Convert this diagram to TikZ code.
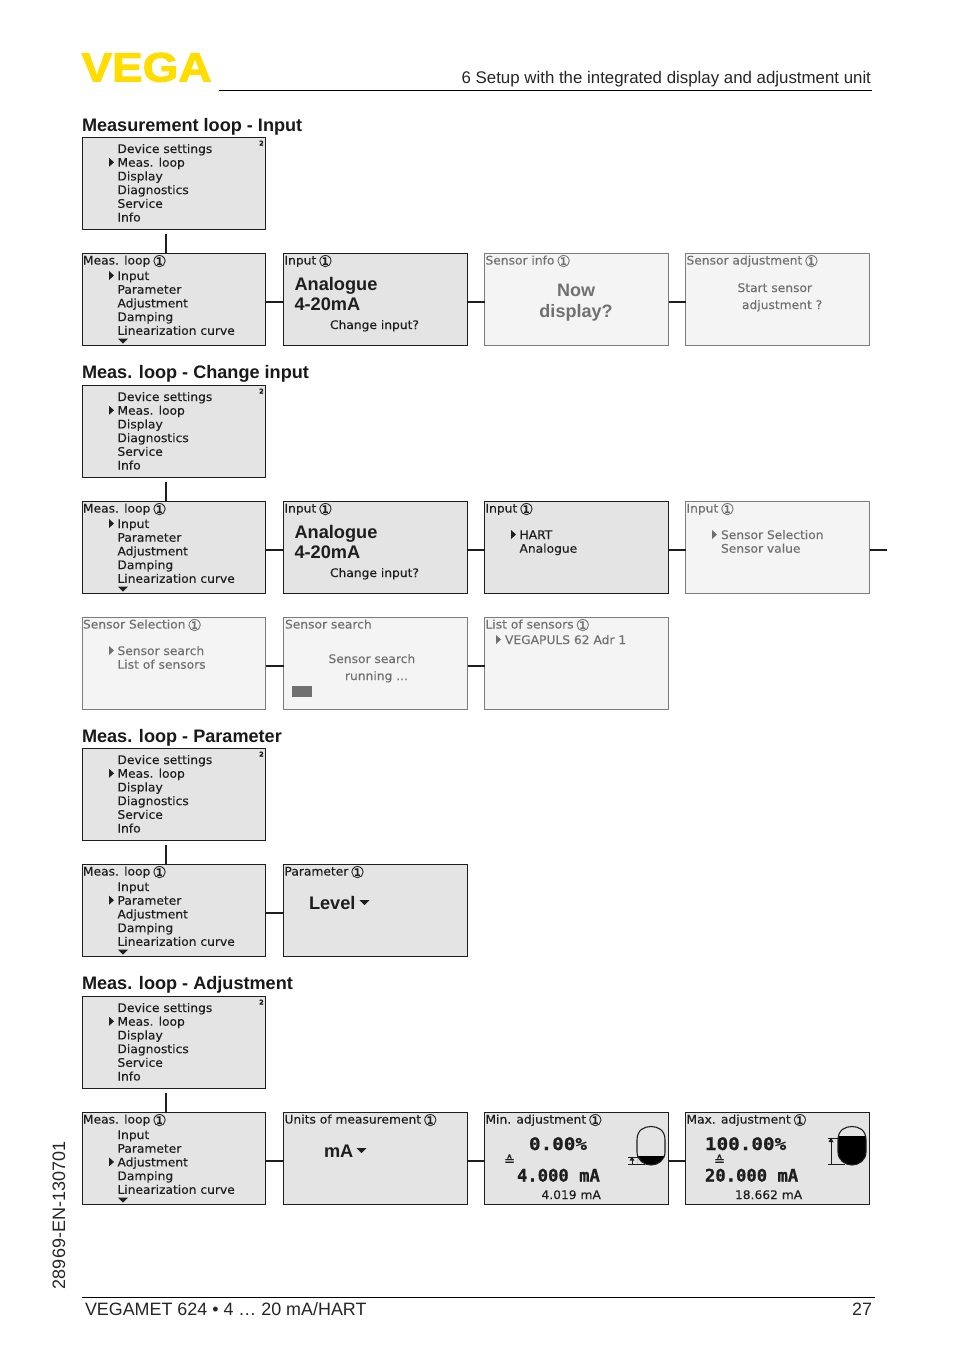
\documentclass[tikz,border=0pt]{standalone}
\usepackage{fontspec}
\setmainfont{Liberation Sans}
\newfontfamily\lcdf[FakeStretch=1.04,FakeBold=0.25]{DejaVu Sans}
\newfontfamily\lcdc[FakeBold=0.4]{DejaVu Sans}
\newfontfamily\lcdm[FakeBold=0.8]{DejaVu Sans Mono}
\newfontfamily\lcdw[FakeBold=0.8,FakeStretch=1.12]{DejaVu Sans Mono}
\newfontfamily\logof[FakeBold=2.4,FakeStretch=1.12]{Liberation Sans}
\definecolor{lcdbg}{HTML}{E4E4E4}
\definecolor{lcdfade}{HTML}{F4F4F4}
\definecolor{fadeline}{HTML}{7C7C7C}
\definecolor{fadetext}{HTML}{707070}
\definecolor{lcdink}{HTML}{1E1E1E}
\definecolor{vegayellow}{HTML}{FFDD00}
\newcounter{tctr}
\tikzset{
  lcdon/.style={draw=lcdink,line width=1.3pt,fill=lcdbg,rectangle,inner sep=0pt,outer sep=0pt,anchor=north west,minimum height=92pt},
  lcdoff/.style={draw=fadeline,line width=0.9pt,fill=lcdfade,rectangle,inner sep=0pt,outer sep=0pt,anchor=north west,minimum height=92pt},
  txt/.style={inner sep=0pt,outer sep=0pt,anchor=base west},
  small/.style={txt,font=\lcdf\fontsize{11.8}{13}\selectfont},
  big/.style={txt,font=\fontsize{18.2}{22}\selectfont\bfseries},
  num/.style={txt,font=\lcdm\fontsize{17.2}{20}\selectfont\bfseries},
  numw/.style={txt,font=\lcdw\fontsize{17.2}{20}\selectfont\bfseries},
  head/.style={txt,font=\fontsize{18.1}{22}\selectfont\bfseries,text=black!90},
  page/.style={txt,font=\fontsize{17.9}{21}\selectfont,text=black!85},
  link/.style={draw=lcdink,line width=2pt},
  rule/.style={draw=black,line width=0.8pt}
}
% text helper
\newcommand{\tx}[4]{\stepcounter{tctr}\node[#1,name=t\arabic{tctr}] at (#2,#3) {#4};}
\newcommand{\mk}[3]{\fill[#3] (#1,#2-4.5) -- (#1+5,#2) -- (#1,#2+4.5) -- cycle;}
\newcommand{\dn}[3]{\fill[#3] (#1-5,#2-2.5) -- (#1+5,#2-2.5) -- (#1,#2+2.5) -- cycle;}
% title with circled one
\newcommand{\ttl}[5]{\tx{small,text=#5}{#1+1}{#2+11.5}{#3\,\raisebox{-2.4pt}{\lcdc\fontsize{16}{13}\selectfont ①}}}
% main menu (y = top of box)
\newcommand{\topmenu}[2]{%
  \node[lcdon,minimum width=183pt] (#1) at (82.5,#2+0.5) {};
  \tx{small,text=lcdink}{117.5}{#2+16}{Device settings}
  \tx{small,text=lcdink}{117.5}{#2+29.7}{Meas. loop}
  \tx{small,text=lcdink}{117.5}{#2+43.4}{Display}
  \tx{small,text=lcdink}{117.5}{#2+57.1}{Diagnostics}
  \tx{small,text=lcdink}{117.5}{#2+70.8}{Service}
  \tx{small,text=lcdink}{117.5}{#2+84.5}{Info}
  \tx{txt,font=\lcdc\fontsize{6.5}{7}\selectfont\bfseries,text=lcdink}{259.2}{#2+8.5}{2}
  \mk{109}{#2+25.3}{lcdink}
  \coordinate (#1c) at (166,#2+97);
}
% sub menu
\newcommand{\submenu}[3]{%
  \node[lcdon,minimum width=183pt] (#1) at (82.5,#2+0.5) {};
  \ttl{82}{#2}{Meas. loop}{}{lcdink}
  \tx{small,text=lcdink}{117.5}{#2+27}{Input}
  \tx{small,text=lcdink}{117.5}{#2+40.7}{Parameter}
  \tx{small,text=lcdink}{117.5}{#2+54.4}{Adjustment}
  \tx{small,text=lcdink}{117.5}{#2+68.1}{Damping}
  \tx{small,text=lcdink}{117.5}{#2+81.8}{Linearization curve}
  \mk{109}{#2+22.5+13.7*#3}{lcdink}
  \dn{123}{#2+88}{lcdink}
}
\newcommand{\boxon}[3]{\node[lcdon,minimum width=184pt] (#1) at (#2,#3+0.5) {};}
\newcommand{\boxoff}[3]{\node[lcdoff,minimum width=184pt] (#1) at (#2,#3+0.5) {};}
\newcommand{\vlink}[2]{\draw[link] (#1c) -- (#2.north -| #1c);}
\newcommand{\hlink}[2]{\draw[link] ([yshift=-2pt]#1.east) -- ([yshift=-2pt]#2.west);}
\begin{document}
\begin{tikzpicture}[x=1pt,y=-1pt]
\useasboundingbox (0,0) rectangle (954,1354);
\fill[white] (0,0) rectangle (954,1354);

% header
\node[txt,font=\logof\fontsize{41}{44}\selectfont\bfseries,text=vegayellow] (logo) at (81.5,81.5) {VEGA};
\tx{txt,anchor=base east,font=\fontsize{16.85}{21}\selectfont,text=black!85}{871}{83.5}{6 Setup with the integrated display and adjustment unit}
\coordinate (hr1) at (219,90.5); \coordinate (hr2) at (872,90.5);
\draw[rule] (hr1) -- (hr2);

% --- Section 1
\tx{head}{82}{131}{Measurement loop - Input}
\topmenu{a0}{137}
\submenu{a1}{253}{0}
\boxon{a2}{283.5}{253}
\ttl{283.5}{253}{Input}{}{lcdink}
\tx{big,text=lcdink}{294.5}{290}{Analogue}
\tx{big,text=lcdink}{294.5}{310.5}{4-20mA}
\tx{small,text=lcdink}{330}{329}{Change input?}
\boxoff{a3}{484.5}{253}
\ttl{484.5}{253}{Sensor info}{}{fadetext}
\tx{txt,anchor=base,font=\fontsize{18}{22}\selectfont\bfseries,text=fadetext}{576}{296.5}{Now}
\tx{txt,anchor=base,font=\fontsize{18}{22}\selectfont\bfseries,text=fadetext}{576}{317}{display?}
\boxoff{a4}{685.5}{253}
\ttl{685.5}{253}{Sensor adjustment}{}{fadetext}
\tx{small,text=fadetext}{737.5}{292}{Start sensor}
\tx{small,text=fadetext}{742}{309}{adjustment ?}
\vlink{a0}{a1}
\hlink{a1}{a2}
\hlink{a2}{a3}
\hlink{a3}{a4}

% --- Section 2
\tx{head}{82}{378.5}{Meas. loop - Change input}
\topmenu{b0}{385}
\submenu{b1}{501}{0}
\boxon{b2}{283.5}{501}
\ttl{283.5}{501}{Input}{}{lcdink}
\tx{big,text=lcdink}{294.5}{538}{Analogue}
\tx{big,text=lcdink}{294.5}{558.5}{4-20mA}
\tx{small,text=lcdink}{330}{577}{Change input?}
\boxon{b3}{484.5}{501}
\ttl{484.5}{501}{Input}{}{lcdink}
\tx{small,text=lcdink}{519.5}{539}{HART}
\tx{small,text=lcdink}{519.5}{552.7}{Analogue}
\mk{511}{534.5}{lcdink}
\boxoff{b4}{685.5}{501}
\ttl{685.5}{501}{Input}{}{fadetext}
\tx{small,text=fadetext}{721}{539}{Sensor Selection}
\tx{small,text=fadetext}{721}{552.7}{Sensor value}
\mk{712}{534.5}{fadetext}
\coordinate (b4out) at (887,549.5);
\vlink{b0}{b1}
\hlink{b1}{b2}
\hlink{b2}{b3}
\hlink{b3}{b4}
\draw[link] (b4.east |- b4out) -- (b4out);

\node[lcdoff,minimum width=183pt] (c1) at (82.5,617.5) {};
\ttl{82}{617}{Sensor Selection}{}{fadetext}
\tx{small,text=fadetext}{117.5}{655}{Sensor search}
\tx{small,text=fadetext}{117.5}{668.7}{List of sensors}
\mk{109}{650.5}{fadetext}
\boxoff{c2}{283.5}{617}
\tx{small,text=fadetext}{285}{628.5}{Sensor search}
\tx{small,text=fadetext}{328.5}{663}{Sensor search}
\tx{small,text=fadetext}{345}{680}{running ...}
\fill[fadetext] (292,685.5) rectangle (312,696.5);
\boxoff{c3}{484.5}{617}
\ttl{484.5}{617}{List of sensors}{}{fadetext}
\tx{small,text=fadetext}{505}{644}{VEGAPULS 62 Adr 1}
\mk{496}{639.5}{fadetext}
\hlink{c1}{c2}
\hlink{c2}{c3}

% --- Section 3
\tx{head}{82}{742}{Meas. loop - Parameter}
\topmenu{d0}{748}
\submenu{d1}{864}{1}
\boxon{d2}{283.5}{864}
\ttl{283.5}{864}{Parameter}{}{lcdink}
\tx{big,text=lcdink}{309}{909}{Level}
\dn{364.5}{902.5}{lcdink}
\vlink{d0}{d1}
\hlink{d1}{d2}

% --- Section 4
\tx{head}{82}{989.5}{Meas. loop - Adjustment}
\topmenu{e0}{996}
\submenu{e1}{1112}{2}
\boxon{e2}{283.5}{1112}
\ttl{283.5}{1112}{Units of measurement}{}{lcdink}
\tx{big,text=lcdink}{324}{1157}{mA}
\dn{361.5}{1150.5}{lcdink}
\boxon{e3}{484.5}{1112}
\ttl{484.5}{1112}{Min. adjustment}{}{lcdink}
\tx{numw,text=lcdink}{529}{1150}{0.00\%}
\tx{txt,font=\lcdc\fontsize{13}{12}\selectfont,text=lcdink}{504}{1165}{≙}
\tx{num,text=lcdink}{517}{1181.5}{4.000 mA}
\tx{small,text=lcdink}{541.5}{1199}{4.019 mA}
\boxon{e4}{685.5}{1112}
\ttl{685.5}{1112}{Max. adjustment}{}{lcdink}
\tx{numw,text=lcdink}{705}{1150}{100.00\%}
\tx{txt,font=\lcdc\fontsize{13}{12}\selectfont,text=lcdink}{714}{1165}{≙}
\tx{num,text=lcdink}{705}{1181.5}{20.000 mA}
\tx{small,text=lcdink}{735}{1199}{18.662 mA}
% tanks
\begin{scope}
\clip (637,1165) -- (637,1140) .. controls (637,1130) and (644,1126.5) .. (651,1126.5) .. controls (658,1126.5) and (665,1130) .. (665,1140) -- (665,1152) .. controls (665,1160) and (658,1165) .. (651,1165) .. controls (644,1165) and (637,1160) .. (637,1152) -- cycle;
\fill[black] (630,1156) rectangle (670,1170);
\end{scope}
\draw[lcdink,line width=1.1pt] (637,1152) -- (637,1140) .. controls (637,1130) and (644,1126.5) .. (651,1126.5) .. controls (658,1126.5) and (665,1130) .. (665,1140) -- (665,1152) .. controls (665,1160) and (658,1165) .. (651,1165) .. controls (644,1165) and (637,1160) .. (637,1152);
\draw[lcdink,line width=1pt] (628,1157) -- (640,1157) (628,1164.5) -- (645,1164.5) (632,1158) -- (632,1164);
\fill[lcdink] (632,1156.5) -- (629.5,1160.5) -- (634.5,1160.5) -- cycle;
\begin{scope}
\clip (838,1152) -- (838,1140) .. controls (838,1130) and (845,1126.5) .. (852,1126.5) .. controls (859,1126.5) and (866,1130) .. (866,1140) -- (866,1152) .. controls (866,1160) and (859,1165) .. (852,1165) .. controls (845,1165) and (838,1160) .. (838,1152) -- cycle;
\fill[black] (830,1136) rectangle (870,1170);
\end{scope}
\draw[lcdink,line width=1.1pt] (838,1152) -- (838,1140) .. controls (838,1130) and (845,1126.5) .. (852,1126.5) .. controls (859,1126.5) and (866,1130) .. (866,1140) -- (866,1152) .. controls (866,1160) and (859,1165) .. (852,1165) .. controls (845,1165) and (838,1160) .. (838,1152);
\draw[lcdink,line width=1pt] (828,1138) -- (838,1138) (828,1164.5) -- (845,1164.5) (831,1139) -- (831,1164);
\fill[lcdink] (831,1137.5) -- (828.5,1142) -- (833.5,1142) -- cycle;
\vlink{e0}{e1}
\hlink{e1}{e2}
\hlink{e2}{e3}
\hlink{e3}{e4}

% footer
\node[txt,rotate=90,font=\fontsize{18}{21}\selectfont,text=black!85] (side) at (65,1289) {28969-EN-130701};
\coordinate (fr1) at (82,1297); \coordinate (fr2) at (875,1297);
\draw[rule] (fr1) -- (fr2);
\tx{page}{85}{1315}{VEGAMET 624 • 4 … 20 mA/HART}
\tx{page,anchor=base east}{872}{1315}{27}
\end{tikzpicture}
\end{document}
